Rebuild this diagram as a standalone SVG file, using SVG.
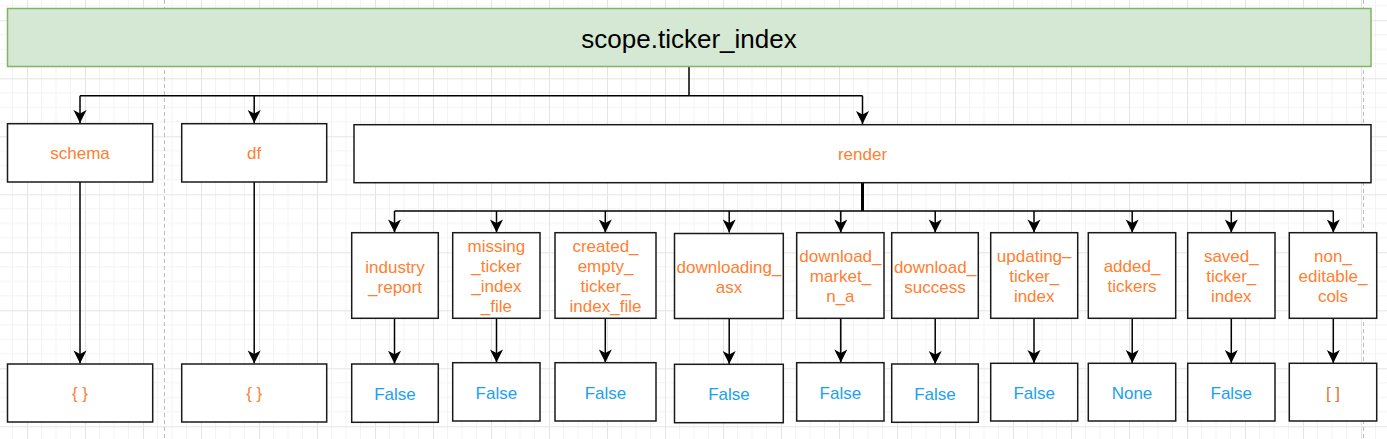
<svg xmlns="http://www.w3.org/2000/svg" width="1387" height="439" viewBox="0 0 1387 439">
<style>
.box{fill:#ffffff;stroke:#1a1a1a;stroke-width:1.5}
.t{font-family:"Liberation Sans",Arial,Helvetica,sans-serif;font-size:17px;text-anchor:middle;fill:#FF8033}
.v{fill:#1BA1EE}
.e{fill:none;stroke:#000;stroke-width:1.5}
.pb{stroke:#bdbdbd;stroke-width:1;stroke-dasharray:4 3}
</style>
<defs>
<pattern id="grid" x="27" y="20.3" width="58" height="58" patternUnits="userSpaceOnUse">
<path d="M14.5,0V58M29,0V58M43.5,0V58M0,14.5H58M0,29H58M0,43.5H58" stroke="#f3f3f3" stroke-width="1" fill="none"/>
<path d="M0.5,0V58M0,0.5H58" stroke="#e4e4e4" stroke-width="1" fill="none"/>
</pattern>
<marker id="arr" viewBox="-14 -7 15 14" refX="0" refY="0" markerWidth="15" markerHeight="14" markerUnits="userSpaceOnUse" orient="auto">
<path d="M0,0 L-13,-6.5 L-9.5,0 L-13,6.5 Z" fill="#000"/>
</marker>
</defs>
<rect width="1387" height="439" fill="#ffffff"/>
<rect width="1387" height="439" fill="url(#grid)"/>
<line class="pb" x1="164.5" y1="0" x2="164.5" y2="439"/>
<line class="pb" x1="1363.5" y1="0" x2="1363.5" y2="439"/>

<g id="connectors">
<path class="e" d="M689,67V95.7M80,95.7H862.5"/>
<path class="e" d="M80,95.7V123" marker-end="url(#arr)"/>
<path class="e" d="M254.2,95.7V123" marker-end="url(#arr)"/>
<path class="e" d="M862.5,95.7V124" marker-end="url(#arr)"/>
<path class="e" d="M80,182V363.5" marker-end="url(#arr)"/>
<path class="e" d="M254.2,182V363.5" marker-end="url(#arr)"/>
<path class="e" style="stroke-width:3" d="M862.5,182.7V211"/>
<path class="e" d="M394.5,211H1333.5"/>
<path class="e" d="M394.5,211V232.5" marker-end="url(#arr)"/>
<path class="e" d="M496.5,211V232.5" marker-end="url(#arr)"/>
<path class="e" d="M605.3,211V232.5" marker-end="url(#arr)"/>
<path class="e" d="M729.2,211V232.5" marker-end="url(#arr)"/>
<path class="e" d="M840.8,211V232.5" marker-end="url(#arr)"/>
<path class="e" d="M935.2,211V232.5" marker-end="url(#arr)"/>
<path class="e" d="M1034,211V232.5" marker-end="url(#arr)"/>
<path class="e" d="M1132.2,211V232.5" marker-end="url(#arr)"/>
<path class="e" d="M1231.3,211V232.5" marker-end="url(#arr)"/>
<path class="e" d="M1333.3,211V232.5" marker-end="url(#arr)"/>
<path class="e" d="M394.5,318.3V363.8" marker-end="url(#arr)"/>
<path class="e" d="M496.5,318.3V362.5" marker-end="url(#arr)"/>
<path class="e" d="M605.3,318.3V362.5" marker-end="url(#arr)"/>
<path class="e" d="M729.2,318.3V364" marker-end="url(#arr)"/>
<path class="e" d="M840.8,318.3V362.5" marker-end="url(#arr)"/>
<path class="e" d="M935.2,318.3V364" marker-end="url(#arr)"/>
<path class="e" d="M1034,318.3V363" marker-end="url(#arr)"/>
<path class="e" d="M1132.2,318.3V363" marker-end="url(#arr)"/>
<path class="e" d="M1231.3,318.3V363" marker-end="url(#arr)"/>
<path class="e" d="M1333.3,318.3V363" marker-end="url(#arr)"/>
</g>

<g id="root">
<rect x="7.5" y="8.5" width="1363.5" height="58" fill="#d5e8d4" stroke="#82b366" stroke-width="1.5"/>
<text x="689" y="48" style="font-family:'Liberation Sans',Arial,Helvetica,sans-serif;font-size:26px;text-anchor:middle;fill:#000">scope.ticker_index</text>
</g>

<g id="schema"><rect class="box" x="7.5" y="123.7" width="145.2" height="58.3"/><text class="t" x="80" y="159">schema</text></g>
<g id="df"><rect class="box" x="181.7" y="123.7" width="145" height="58.3"/><text class="t" x="254.2" y="159">df</text></g>
<g id="render"><rect class="box" x="354" y="124.7" width="1017" height="58"/><text class="t" x="862.5" y="160">render</text></g>

<g id="schema_val"><rect class="box" x="7.5" y="364" width="145.2" height="58"/><text class="t" x="80" y="399">{ }</text></g>
<g id="df_val"><rect class="box" x="181.7" y="364" width="145" height="58"/><text class="t" x="254.2" y="399">{ }</text></g>

<g id="industry_report"><rect class="box" x="351.7" y="232.7" width="86.6" height="85.6"/><text class="t" x="395" y="272.7">industry</text><text class="t" x="395" y="292.7">_report</text></g>
<g id="missing_ticker_index_file"><rect class="box" x="452.7" y="232.7" width="87.3" height="85.6"/><text class="t" x="496.4" y="251.7">missing</text><text class="t" x="496.4" y="271.7">_ticker</text><text class="t" x="496.4" y="291.7">_index</text><text class="t" x="496.4" y="311.7">_file</text></g>
<g id="created_empty_ticker_index_file"><rect class="box" x="555" y="232.7" width="101" height="85.6"/><text class="t" x="605.5" y="251.7">created_</text><text class="t" x="605.5" y="271.7">empty_</text><text class="t" x="605.5" y="291.7">ticker_</text><text class="t" x="605.5" y="311.7">index_file</text></g>
<g id="downloading_asx"><rect class="box" x="674.5" y="233.5" width="108.8" height="85"/><text class="t" x="729" y="273.3">downloading_</text><text class="t" x="729" y="293.3">asx</text></g>
<g id="download_market_n_a"><rect class="box" x="796.7" y="232.7" width="87.3" height="85.6"/><text class="t" x="840.4" y="261.7">download_</text><text class="t" x="840.4" y="281.7">market_</text><text class="t" x="840.4" y="301.7">n_a</text></g>
<g id="download_success"><rect class="box" x="891.7" y="232.7" width="86.6" height="85.6"/><text class="t" x="935" y="273.3">download_</text><text class="t" x="935" y="293.3">success</text></g>
<g id="updating_ticker_index"><rect class="box" x="990.7" y="232.7" width="87" height="85.6"/><text class="t" x="1034.2" y="261.7">updating–</text><text class="t" x="1034.2" y="281.7">ticker_</text><text class="t" x="1034.2" y="301.7">index</text></g>
<g id="added_tickers"><rect class="box" x="1088.3" y="232.7" width="87.4" height="85.6"/><text class="t" x="1132" y="271.7">added_</text><text class="t" x="1132" y="291.7">tickers</text></g>
<g id="saved_ticker_index"><rect class="box" x="1187.7" y="232.7" width="87.3" height="85.6"/><text class="t" x="1231.3" y="261.7">saved_</text><text class="t" x="1231.3" y="281.7">ticker_</text><text class="t" x="1231.3" y="301.7">index</text></g>
<g id="non_editable_cols"><rect class="box" x="1289.3" y="232.7" width="87.4" height="85.6"/><text class="t" x="1333" y="261.7">non_</text><text class="t" x="1333" y="281.7">editable_</text><text class="t" x="1333" y="301.7">cols</text></g>

<g id="industry_report_val"><rect class="box" x="351.7" y="364" width="86.6" height="58.3"/><text class="t v" x="395" y="399.5">False</text></g>
<g id="missing_val"><rect class="box" x="452.7" y="362.7" width="87.3" height="58.3"/><text class="t v" x="496.4" y="398.5">False</text></g>
<g id="created_val"><rect class="box" x="555" y="362.7" width="101" height="58.3"/><text class="t v" x="605.5" y="398.5">False</text></g>
<g id="downloading_val"><rect class="box" x="674.5" y="364.3" width="108.8" height="58.4"/><text class="t v" x="729" y="400">False</text></g>
<g id="market_val"><rect class="box" x="796.7" y="362.7" width="87.3" height="58.3"/><text class="t v" x="840.4" y="398.5">False</text></g>
<g id="success_val"><rect class="box" x="891.7" y="364" width="86.6" height="58.3"/><text class="t v" x="935" y="400">False</text></g>
<g id="updating_val"><rect class="box" x="990.7" y="363.3" width="87" height="57.7"/><text class="t v" x="1034.2" y="398.5">False</text></g>
<g id="added_val"><rect class="box" x="1088.3" y="363.3" width="87.4" height="57.7"/><text class="t v" x="1132" y="398.5">None</text></g>
<g id="saved_val"><rect class="box" x="1187.7" y="363.3" width="87.3" height="57.7"/><text class="t v" x="1231.3" y="398.5">False</text></g>
<g id="non_editable_val"><rect class="box" x="1289.3" y="363.3" width="87.4" height="57.7"/><text class="t" x="1333" y="398.5" style="fill:#E8772E">[ ]</text></g>
</svg>
